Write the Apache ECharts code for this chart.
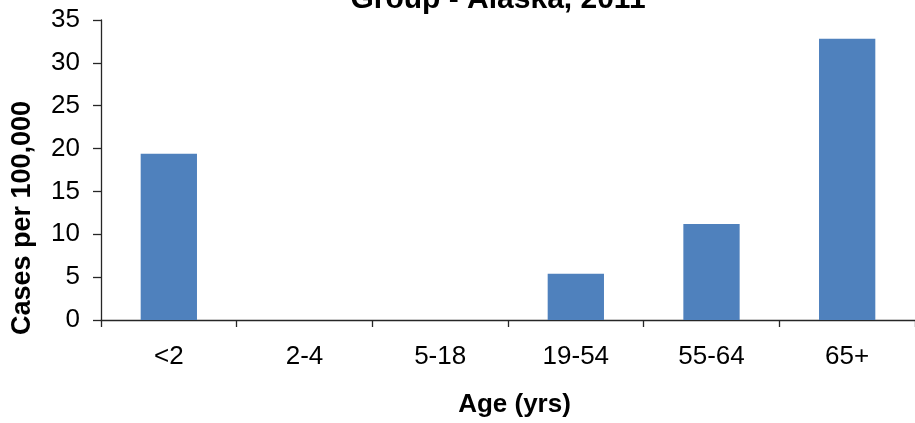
<!DOCTYPE html>
<html>
<head>
<meta charset="utf-8">
<script src="https://cdn.jsdelivr.net/npm/echarts@6/dist/echarts.min.js"></script>
<style>html,body{margin:0;padding:0;background:#fff}#c{width:915px;height:423px}</style>
</head>
<body>
<div id="c"></div>
<script>
const categories = ['<2', '2-4', '5-18', '19-54', '55-64', '65+'];
const values = [19.4, 0, 0, 5.4, 11.2, 32.8];
const yTicks = { min: 0, max: 35, interval: 5 };
const titleText = 'Group - Alaska, 2011';
const xName = 'Age (yrs)';
const yName = 'Cases per 100,000';

const FONT = '"Liberation Sans", Arial, sans-serif';
const chart = echarts.init(document.getElementById('c'), null, { renderer: 'canvas' });
chart.setOption({
  animation: false,
  backgroundColor: '#ffffff',
  title: {
    text: titleText,
    left: 498,
    textAlign: 'center',
    top: -15,
    padding: 0,
    textStyle: { fontFamily: FONT, fontSize: 30, fontWeight: 'bold', color: '#000' }
  },
  grid: { left: 101, top: 20, width: 825, height: 304 },
  xAxis: {
    type: 'category',
    data: categories,
    name: xName,
    nameLocation: 'middle',
    nameGap: 72,
    nameTextStyle: { fontFamily: FONT, fontSize: 26, fontWeight: 'bold', color: '#000', padding: [0, 0, 0, 13] },
    axisLine: { show: true, lineStyle: { color: '#262626', width: 1.3 } },
    axisTick: { show: true, alignWithLabel: false, length: 7, lineStyle: { color: '#262626', width: 1.3 } },
    axisLabel: { fontFamily: FONT, fontSize: 26, color: '#000', margin: 24 },
    splitLine: { show: false }
  },
  yAxis: {
    type: 'value',
    min: yTicks.min,
    max: yTicks.max,
    interval: yTicks.interval,
    name: yName,
    nameLocation: 'middle',
    nameGap: 65,
    nameTextStyle: { fontFamily: FONT, fontSize: 27, fontWeight: 'bold', color: '#000', padding: [0, 96, 0, 0] },
    axisLine: { show: true, lineStyle: { color: '#262626', width: 1.3 } },
    axisTick: { show: true, length: 8, lineStyle: { color: '#262626', width: 1.3 } },
    axisLabel: { fontFamily: FONT, fontSize: 26, color: '#000', margin: 21 },
    splitLine: { show: false }
  },
  series: [{
    type: 'bar',
    data: values,
    barWidth: '41.5%',
    itemStyle: { color: '#4F81BD' }
  }]
});
</script>
</body>
</html>
